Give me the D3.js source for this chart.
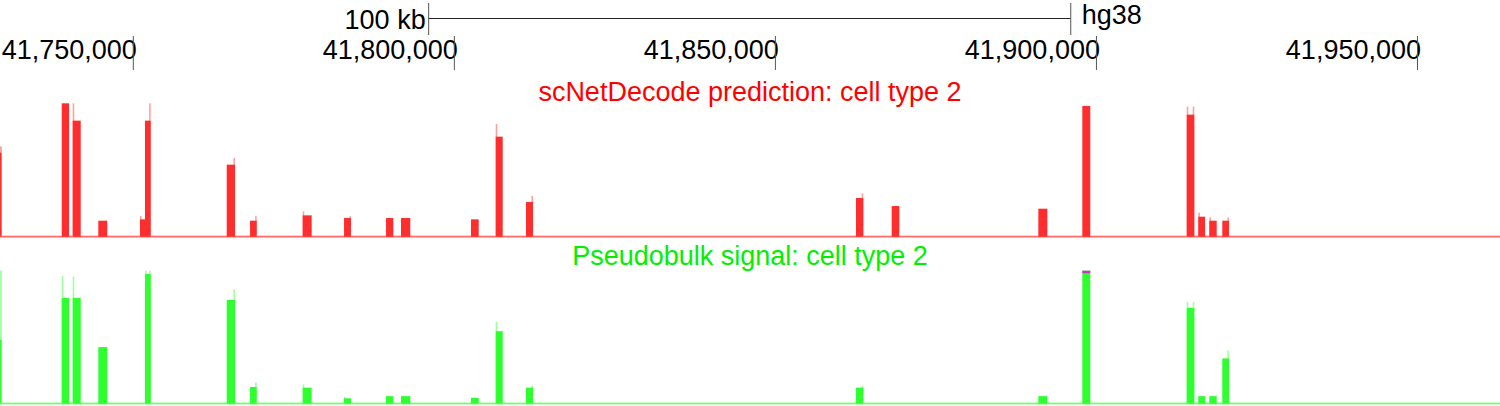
<!DOCTYPE html>
<html>
<head>
<meta charset="utf-8">
<script src="https://cdn.jsdelivr.net/npm/d3@7"></script>
<style>
  html, body { margin: 0; padding: 0; background: #fff; }
  svg { display: block; font-family: "Liberation Sans", Arial, Helvetica, sans-serif; }
</style>
</head>
<body>
<svg id="chart"></svg>
<script>
/* chr region shown, in bp */
var viewStart = 41729240,
    viewEnd = 41962850;

var tickValues = [41750000, 41800000, 41850000, 41900000, 41950000];

var scaleBarStart = 41796000,
    scaleBarLength = 100000,
    scaleBarLabel = '100 kb',
    assembly = 'hg38';

var trackTitles = ['scNetDecode prediction: cell type 2', 'Pseudobulk signal: cell type 2'];

/* peak intervals */
var peakStart = [41729240, 41738850, 41740560, 41744550, 41751040, 41751820, 41764550, 41768180,
                 41776380, 41782820, 41789360, 41791690, 41802590, 41806440, 41811160, 41862550,
                 41868110, 41890950, 41897800, 41914060, 41915860, 41917580, 41919600];
var peakEnd   = [41729470, 41739990, 41741810, 41745950, 41751820, 41752710, 41765840, 41769220,
                 41777780, 41783900, 41790490, 41793140, 41803790, 41807530, 41812250, 41863690,
                 41869300, 41892350, 41899040, 41915240, 41916910, 41918730, 41920640];

/* scNetDecode prediction: mean and max per interval, and where in it the max falls */
var predMean = [0.63, 1.00, 0.87, 0.12, 0.13, 0.87, 0.54, 0.12,
                0.16, 0.14, 0.14, 0.14, 0.13, 0.75, 0.26, 0.29,
                0.23, 0.21, 0.98, 0.915, 0.15, 0.12, 0.12];
var predMax  = [0.675, 1.00, 1.00, 0.12, 0.155, 1.00, 0.59, 0.155,
                0.19, 0.155, 0.14, 0.14, 0.13, 0.845, 0.305, 0.325,
                0.23, 0.21, 0.98, 0.975, 0.18, 0.145, 0.145];
var predMaxAt = ['b', '', 'l', '', 'l', 'r', 'r', 'r',
                 'l', 'r', '', '', '', 'l', 'r', 'r',
                 '', '', '', 'b', 'l', 'l', 'r'];

/* Pseudobulk signal: mean and max per interval, and where in it the max falls */
var bulkMean = [0.48, 0.795, 0.795, 0.425, 0, 0.975, 0.78, 0.125,
                0.12, 0.04, 0.056, 0.056, 0.044, 0.545, 0.12, 0.12,
                0, 0.056, 1.15, 0.72, 0.056, 0.056, 0.34];
var bulkMax  = [1.00, 0.96, 0.955, 0.425, 0, 1.00, 0.86, 0.16,
                0.145, 0.05, 0.056, 0.056, 0.044, 0.615, 0.135, 0.135,
                0, 0.056, 1.15, 0.765, 0.056, 0.056, 0.40];
var bulkMaxAt = ['b', 'l', 'l', '', '', 'b', 'r', 'r',
                 'l', 'l', '', '', '', 'l', 'r', 'r',
                 '', '', '', 'b', '', '', 'r'];

var viewLimit = 1.0;

(function () {
    'use strict';

    var width = 1500,
        height = 406,
        whiskerW = 1.6;

    var svg = d3.select('#chart')
        .attr('width', width)
        .attr('height', height)
        .attr('viewBox', [0, 0, width, height]);

    var x = d3.scaleLinear().domain([viewStart, viewEnd]).range([0, width]);

    /* Scale bar */

    var sb = svg.append('g');
    var sb0 = x(scaleBarStart), sb1 = x(scaleBarStart + scaleBarLength);

    sb.append('line')
        .attr('x1', sb0).attr('x2', sb1).attr('y1', 18.5).attr('y2', 18.5)
        .attr('stroke', '#222').attr('stroke-width', 1);
    sb.selectAll('line.end').data([sb0, sb1]).enter().append('line')
        .attr('class', 'end')
        .attr('x1', function (d) { return d; }).attr('x2', function (d) { return d; })
        .attr('y1', 3).attr('y2', 35)
        .attr('stroke', '#555').attr('stroke-width', 1);
    sb.append('text')
        .attr('x', sb0 - 3).attr('y', 29.3)
        .attr('text-anchor', 'end')
        .attr('font-size', 27)
        .text(scaleBarLabel);
    sb.append('text')
        .attr('x', sb1 + 11).attr('y', 23.5)
        .attr('font-size', 27)
        .text(assembly);

    /* Position axis */

    var fmt = d3.format(',');
    var ax = svg.append('g');
    var tick = ax.selectAll('g.tick').data(tickValues).enter().append('g')
        .attr('class', 'tick')
        .attr('transform', function (d) { return 'translate(' + x(d) + ',0)'; });
    tick.append('text')
        .attr('x', 3.5).attr('y', 58.5)
        .attr('text-anchor', 'end')
        .attr('font-size', 27)
        .text(function (d) { return fmt(d); });
    tick.append('line')
        .attr('x1', 0).attr('x2', 0).attr('y1', 36).attr('y2', 70)
        .attr('stroke', '#555').attr('stroke-width', 1);

    /* Tracks */

    var tracks = [
        { title: trackTitles[0], titleY: 101, top: 103.3, base: 236.7,
          mean: predMean, max: predMax, maxAt: predMaxAt,
          text: '#ff0000', color: '#ff2e2e', light: '#ffa0a0', line: '#ff6a6a' },
        { title: trackTitles[1], titleY: 264.5, top: 270.7, base: 403.6,
          mean: bulkMean, max: bulkMax, maxAt: bulkMaxAt,
          text: '#00f000', color: '#2eff2e', light: '#a0ffa0', line: '#70ff70' }
    ];

    tracks.forEach(function (t) {
        var y = d3.scaleLinear().domain([0, viewLimit]).range([t.base, t.top]).clamp(true);
        var g = svg.append('g');

        g.append('text')
            .attr('x', 750).attr('y', t.titleY)
            .attr('text-anchor', 'middle')
            .attr('font-size', 27)
            .attr('fill', t.text)
            .text(t.title);

        // zero line
        g.append('rect')
            .attr('x', 0).attr('width', width)
            .attr('y', t.base - 1).attr('height', 1.8)
            .attr('fill', t.line);

        var idx = d3.range(peakStart.length);

        // max whiskers: thin columns at the side where the max sits
        var whiskers = [];
        idx.forEach(function (i) {
            if (t.max[i] <= t.mean[i]) return;
            var x0 = x(peakStart[i]), x1 = x(peakEnd[i]);
            if (t.maxAt[i] === 'l' || t.maxAt[i] === 'b') whiskers.push({ i: i, x: x0 });
            if (t.maxAt[i] === 'r' || t.maxAt[i] === 'b') whiskers.push({ i: i, x: Math.max(x0, x1 - whiskerW) });
        });
        g.selectAll('rect.max').data(whiskers).enter().append('rect')
            .attr('class', 'max')
            .attr('x', function (d) { return d.x; })
            .attr('width', whiskerW)
            .attr('y', function (d) { return y(t.max[d.i]); })
            .attr('height', function (d) { return t.base - y(t.max[d.i]); })
            .attr('fill', t.light);

        // mean bars
        g.selectAll('rect.mean').data(idx).enter().append('rect')
            .attr('class', 'mean')
            .attr('x', function (i) { return x(peakStart[i]); })
            .attr('width', function (i) { return Math.max(1, x(peakEnd[i]) - x(peakStart[i])); })
            .attr('y', function (i) { return y(t.mean[i]); })
            .attr('height', function (i) { return t.base - y(t.mean[i]); })
            .attr('fill', t.color);

        // clipped values
        g.selectAll('rect.clip').data(idx.filter(function (i) { return t.mean[i] > viewLimit; }))
            .enter().append('rect')
            .attr('class', 'clip')
            .attr('x', function (i) { return x(peakStart[i]); })
            .attr('width', function (i) { return x(peakEnd[i]) - x(peakStart[i]); })
            .attr('y', t.top)
            .attr('height', 2.5)
            .attr('fill', '#cc33cc');
    });

})();
</script>
</body>
</html>
